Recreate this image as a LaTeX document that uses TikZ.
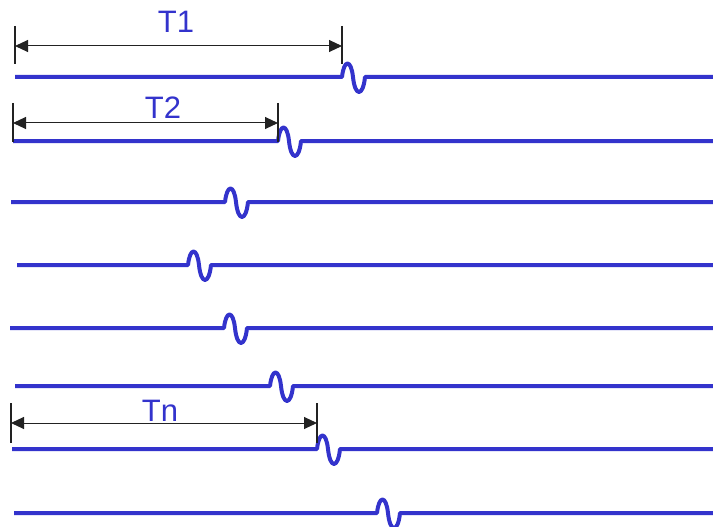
\documentclass[tikz,border=0pt]{standalone}
\usepackage{fontspec}
\setmainfont{Liberation Sans}
\usetikzlibrary{arrows.meta,calc}
\definecolor{sigblue}{HTML}{3333CC}
\definecolor{dimgray}{HTML}{222222}
\tikzset{
  signal/.style={draw=sigblue, line width=4pt, line join=round},
  dimtick/.style={draw=dimgray, line width=1.2pt},
  dimarrow/.style={draw=dimgray, line width=1pt,
    {Triangle[length=13pt,width=12pt]}-{Triangle[length=13pt,width=12pt]}},
  dimlabel/.style={text=sigblue, font=\fontsize{31}{31}\selectfont, anchor=base, inner sep=0pt}
}
\begin{document}
\begin{tikzpicture}[x=1pt,y=-1pt]
\useasboundingbox (0,0) rectangle (713,527);
% signal lines: start x / baseline y / position of the glitch
\foreach \sx/\yy/\wx [count=\i] in {15/77/342, 13/141/278, 11/202/225, 17/265/188,
                                    10/328/224, 15/386/270, 12/449/317, 14/513/377}{
  \coordinate (s\i) at (\sx,\yy);
  \coordinate (w\i) at (\wx,\yy);
  \coordinate (e\i) at (713,\yy);
  \draw[signal] (s\i) -- (w\i)
    .. controls ($(w\i)+(2,-18)$) and ($(w\i)+(9,-18)$) .. ($(w\i)+(11,0)$)
    .. controls ($(w\i)+(13,20)$) and ($(w\i)+(21,20)$) .. ($(w\i)+(23,0)$)
    -- (e\i);
}
% T1
\coordinate (a1l) at (15,46);  \coordinate (a1r) at (342,46);
\draw[dimtick] (15,26) -- (15,64);
\draw[dimtick] (342,26) -- (342,64);
\draw[dimarrow] (a1l) -- (a1r);
\node[dimlabel] (t1) at (176,33) {T1};
% T2
\coordinate (a2l) at (13,123); \coordinate (a2r) at (278,123);
\draw[dimtick] (13,103) -- (13,142);
\draw[dimtick] (278,103) -- (278,142);
\draw[dimarrow] (a2l) -- (a2r);
\node[dimlabel] (t2) at (163,119) {T2};
% Tn
\coordinate (anl) at (11,423); \coordinate (anr) at (317,423);
\draw[dimtick] (11,403) -- (11,443);
\draw[dimtick] (317,403) -- (317,443);
\draw[dimarrow] (anl) -- (anr);
\node[dimlabel] (tn) at (160,421) {Tn};
\end{tikzpicture}
\end{document}
